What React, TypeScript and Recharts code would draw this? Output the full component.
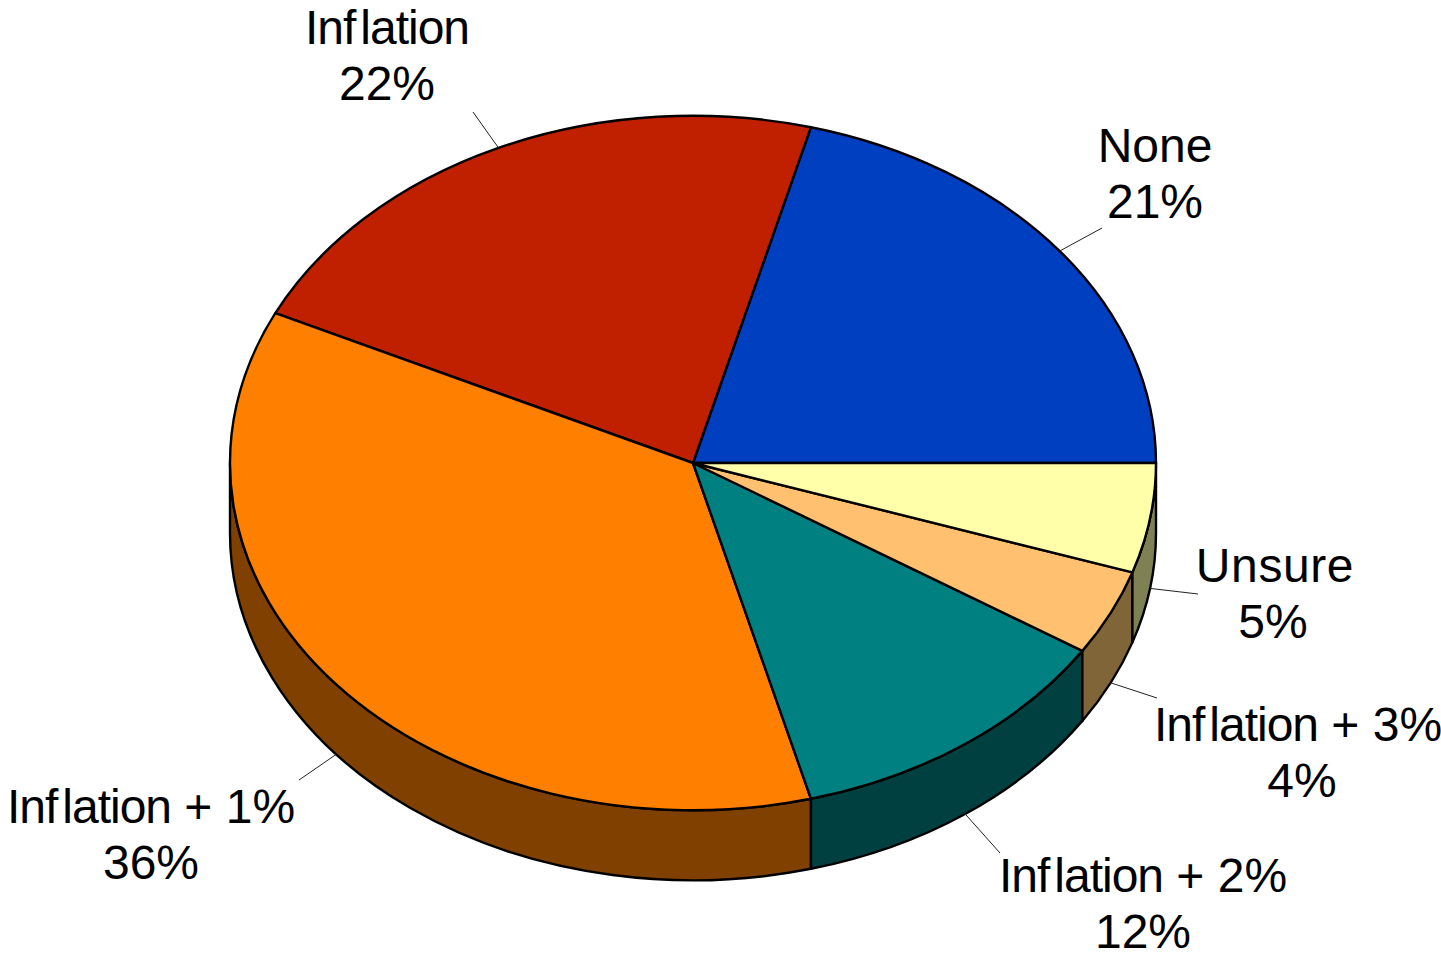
import { Pie, PieChart } from "recharts";

const names = ["None", "Inflation", "Inflation + 1%", "Inflation + 2%", "Inflation + 3%", "Unsure"];
const values = [20.9, 22.0, 36.2, 11.8, 4.0, 5.1];
const topColors = ["#0040c0", "#c02000", "#ff8000", "#008080", "#ffc070", "#ffffaa"];
const sideColors = ["#002060", "#601000", "#804000", "#004040", "#806538", "#808055"];

// label centre x, first baseline y, and where the leader line stops
const labelX = [1155, 387, 151, 1143, 1298, 1275];
const labelY = [162, 44, 823, 892, 741, 582];
const percentX = [1155, 387, 151, 1143, 1302, 1273];
const leaderEndX = [1102, 473, 299, 1000, 1157, 1198];
const leaderEndY = [228, 112, 780, 853, 698, 594];

const topRows = names.map((name, i) => ({ name, value: values[i], fill: topColors[i] }));
const sideRows = names.map((name, i) => ({ name, value: values[i], fill: sideColors[i] }));

const SQUASH = 0.75; // tilt of the pie
const DEPTH = 70;
const RAD = Math.PI / 180;
const OUTLINE = 2.4;

const rimX = (cx: number, r: number, a: number) => cx + r * Math.cos(a * RAD);
const rimY = (cy: number, r: number, a: number) => cy - r * SQUASH * Math.sin(a * RAD);

function TopSlice(props: any) {
  const { cx, cy, outerRadius: r, startAngle, endAngle, fill } = props;
  const ry = r * SQUASH;
  const large = Math.abs(endAngle - startAngle) > 180 ? 1 : 0;
  const d =
    `M${cx},${cy} L${rimX(cx, r, startAngle)},${rimY(cy, r, startAngle)} ` +
    `A${r},${ry} 0 ${large} 0 ${rimX(cx, r, endAngle)},${rimY(cy, r, endAngle)} Z`;
  return <path d={d} fill={fill} stroke="#000" strokeWidth={OUTLINE} strokeLinejoin="round" />;
}

function SideSlice(props: any) {
  const { cx, cy, outerRadius: r, startAngle, endAngle, fill } = props;
  const from = Math.max(startAngle, 180);
  const to = Math.min(endAngle, 360);
  if (to <= from) return <g />;
  const ry = r * SQUASH;
  const large = to - from > 180 ? 1 : 0;
  const d =
    `M${rimX(cx, r, from)},${rimY(cy, r, from)} ` +
    `A${r},${ry} 0 ${large} 0 ${rimX(cx, r, to)},${rimY(cy, r, to)} ` +
    `L${rimX(cx, r, to)},${rimY(cy, r, to) + DEPTH} ` +
    `A${r},${ry} 0 ${large} 1 ${rimX(cx, r, from)},${rimY(cy, r, from) + DEPTH} Z`;
  return <path d={d} fill={fill} stroke="#000" strokeWidth={OUTLINE} strokeLinejoin="round" />;
}

function NameText({ name }: { name: string }) {
  if (name === "Unsure") return <tspan letterSpacing={0.6}>{name}</tspan>;
  if (!name.startsWith("Inflation")) return <tspan>{name}</tspan>;
  return (
    <>
      <tspan letterSpacing={-1}>Inf</tspan>
      <tspan dx={5} letterSpacing={-1}>
        lation
      </tspan>
      <tspan>{name.slice(9)}</tspan>
    </>
  );
}

function SliceLabel(props: any) {
  const { cx, cy, outerRadius: r, midAngle, name, value } = props;
  const i = names.indexOf(name);
  const onWall = midAngle > 180;
  const x1 = rimX(cx, r, midAngle);
  const y1 = rimY(cy, r, midAngle) + (onWall ? DEPTH : 0);
  return (
    <g>
      <line x1={x1} y1={y1} x2={leaderEndX[i]} y2={leaderEndY[i]} stroke="#222" strokeWidth={1} />
      <text
        x={labelX[i]}
        y={labelY[i]}
        textAnchor="middle"
        fontFamily="Liberation Sans"
        fontSize={48}
        fill="#000"
      >
        <NameText name={name} />
      </text>
      <text
        x={percentX[i]}
        y={labelY[i] + 56}
        textAnchor="middle"
        fontFamily="Liberation Sans"
        fontSize={48}
        fill="#000"
      >
        {Math.round(value)}%
      </text>
    </g>
  );
}

export default function App() {
  return (
    <div style={{ position: "absolute", left: 0, top: 0, width: 1441, height: 958, background: "#fff" }}>
      <PieChart width={1441} height={958} margin={{ top: 0, right: 0, bottom: 0, left: 0 }}>
        <Pie
          data={sideRows}
          dataKey="value"
          nameKey="name"
          cx={693}
          cy={463}
          outerRadius={463}
          startAngle={0}
          endAngle={360}
          shape={SideSlice}
          isAnimationActive={false}
        />
        <Pie
          data={topRows}
          dataKey="value"
          nameKey="name"
          cx={693}
          cy={463}
          outerRadius={463}
          startAngle={0}
          endAngle={360}
          shape={TopSlice}
          label={SliceLabel}
          labelLine={false}
          isAnimationActive={false}
        />
      </PieChart>
    </div>
  );
}
